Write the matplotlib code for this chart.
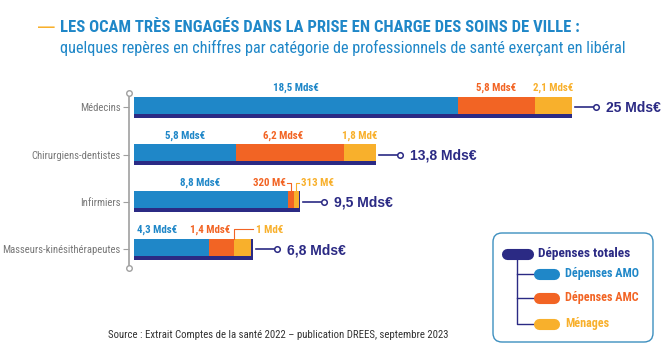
import matplotlib.pyplot as plt
from matplotlib.patches import FancyBboxPatch

# données
categories = ['Médecins', 'Chirurgiens-dentistes', 'Infirmiers', 'Masseurs-kinésithérapeutes']
amo = [18.5, 5.8, 8.8, 4.3]
amc = [4.4, 6.2, 0.32, 1.4]
menages = [2.1, 1.8, 0.313, 1.0]
totals = [25, 13.8, 9.5, 6.8]
amo_labels = ['18,5 Mds€', '5,8 Mds€', '8,8 Mds€', '4,3 Mds€']
amc_labels = ['5,8 Mds€', '6,2 Mds€', '320 M€', '1,4 Mds€']
men_labels = ['2,1 Mds€', '1,8 Md€', '313 M€', '1 Md€']
total_labels = ['25 Mds€', '13,8 Mds€', '9,5 Mds€', '6,8 Mds€']

BLUE = '#1f87c8'
ORANGE = '#f26424'
YELLOW = '#f8b02c'
NAVY = '#2b2a84'
NARROW = ['Roboto Condensed', 'Archivo Narrow', 'PT Sans Narrow', 'Liberation Sans Narrow', 'DejaVu Sans']
SANS = ['Liberation Sans', 'DejaVu Sans']

W, H = 668, 352
fig = plt.figure(figsize=(W / 100, H / 100), dpi=100)
fig.patch.set_facecolor('white')

def fx(px):
    return px / W

def fy(py):
    return 1 - py / H

# titre
fig.text(fx(38), fy(28), '—', color=YELLOW, fontsize=12, fontweight='bold', family=SANS, va='center')
fig.text(fx(60), fy(28), 'LES OCAM TRÈS ENGAGÉS DANS LA PRISE EN CHARGE DES SOINS DE VILLE :',
         color=BLUE, fontsize=12, fontweight='bold', family=NARROW, va='center')
fig.text(fx(60), fy(48), 'quelques repères en chiffres par catégorie de professionnels de santé exerçant en libéral',
         color=BLUE, fontsize=11.7, family=NARROW, va='center')

# axes des barres : 17.5 px par Md€
scale = 17.5
left_px, top_px, bot_px = 129, 83, 273
row0, step = 107.5, 47.2
ax = fig.add_axes([fx(left_px), fy(bot_px), 1 - fx(left_px), (bot_px - top_px) / H])
x0 = -5 / scale
ax.set_xlim(x0, x0 + (W - left_px) / scale)
ax.set_ylim((bot_px - row0) / step, (top_px - row0) / step)
ax.set_facecolor('none')

y = list(range(len(categories)))
hd, hc = 0.445, 0.36
yc = [v - (hd - hc) / 2 for v in y]
ax.barh(y, totals, height=hd, color=NAVY)
ax.barh(yc, amo, height=hc, color=BLUE)
ax.barh(yc, amc, left=amo, height=hc, color=ORANGE)
left3 = [a + b for a, b in zip(amo, amc)]
ax.barh(yc, menages, left=left3, height=hc, color=YELLOW)

for s in ['top', 'right', 'bottom']:
    ax.spines[s].set_visible(False)
ax.spines['left'].set_color('#a0a0a0')
ax.spines['left'].set_linewidth(1.2)
ax.spines['left'].set_bounds((268 - row0) / step, (93 - row0) / step)
ax.plot([x0, x0], [(93 - row0) / step, (268 - row0) / step], 'o', ms=4, mfc='white',
        mec='#a0a0a0', mew=1, clip_on=False, zorder=5)
ax.set_xticks([])
ax.set_yticks(y)
ax.set_yticklabels(categories, family=NARROW, fontsize=7.7, color='#777777')
ax.tick_params(axis='y', length=4, width=0.8, color='#a0a0a0', pad=2)

# étiquettes des segments
ly = -0.41
amo_dx = [0, 0, -11, -15]
amc_dx = [0, -7, 0, 0]
lab = dict(family=NARROW, fontsize=7.8, fontweight='bold', ha='center', va='center')
for i in range(len(categories)):
    ax.text(amo[i] / 2 + amo_dx[i] / scale, i + ly, amo_labels[i], color=BLUE, **lab)
    if i < 2:
        ax.text(amo[i] + amc[i] / 2 + amc_dx[i] / scale, i + ly, amc_labels[i], color=ORANGE, **lab)
        ax.text(left3[i] + menages[i] / 2, i + ly, men_labels[i], color=YELLOW, **lab)

top_bar = -hd / 2
# Infirmiers : petits segments avec renvois
i = 2
xa = amo[i] + amc[i] / 2
xm = left3[i] + menages[i] / 2
ax.plot([xa - 4 / scale, xa, xa], [i + ly + 0.02, i + ly + 0.02, i + top_bar], color=ORANGE, lw=0.8)
ax.plot([xm, xm, xm + 3 / scale], [i + top_bar, i + ly + 0.02, i + ly + 0.02], color=YELLOW, lw=0.8)
lab_l = dict(family=NARROW, fontsize=7.8, fontweight='bold', va='center')
ax.text(xa - 5 / scale, i + ly, amc_labels[i], color=ORANGE, ha='right', **lab_l)
ax.text(xm + 5 / scale, i + ly, men_labels[i], color=YELLOW, ha='left', **lab_l)

# Masseurs-kinésithérapeutes
i = 3
xb = amo[i] + amc[i]
ax.text(xb - 4 / scale, i + ly, amc_labels[i], color=ORANGE, ha='right', **lab_l)
ax.plot([xb, xb, xb + 19 / scale], [i + top_bar, i + ly - 0.02, i + ly - 0.02], color=ORANGE, lw=0.8)
ax.text(xb + 22 / scale, i + ly, men_labels[i], color=YELLOW, ha='left', **lab_l)

# totaux
for i in range(len(categories)):
    t = totals[i]
    ax.plot([t + 3 / scale, t + 23 / scale], [i, i], color=NAVY, lw=1.2)
    ax.plot([t + 24 / scale], [i], 'o', ms=4, mfc='white', mec=NAVY, mew=1.1)
    ax.text(t + 34 / scale, i + 0.02, total_labels[i], color=NAVY, family=SANS, fontsize=10,
            fontweight='bold', va='center', ha='left')

# légende
lax = fig.add_axes([0, 0, 1, 1])
lax.set_xlim(0, W)
lax.set_ylim(H, 0)
lax.axis('off')
lax.patch.set_alpha(0)
box = FancyBboxPatch((493, 233), 160, 109, boxstyle='round,pad=0,rounding_size=9',
                     fc='white', ec='#3d8fbf', lw=1)
lax.add_patch(box)
lax.plot([517, 517, 537], [258, 324, 324], color=NAVY, lw=1)
lax.plot([517, 537], [274, 274], color=NAVY, lw=1)
lax.plot([517, 537], [298, 298], color=NAVY, lw=1)
for (x1, x2, yy, c) in [(503, 532, 254, NAVY), (535, 558, 274, BLUE), (535, 558, 298, ORANGE), (535, 558, 324, YELLOW)]:
    lax.plot([x1 + 4, x2 - 4], [yy, yy], color=c, lw=8, solid_capstyle='round')
lax.text(538, 254, 'Dépenses totales', color=NAVY, family=NARROW, fontsize=9.6, fontweight='bold', va='center')
lax.text(565, 274, 'Dépenses AMO', color=BLUE, family=NARROW, fontsize=8.7, fontweight='bold', va='center')
lax.text(565, 298, 'Dépenses AMC', color=ORANGE, family=NARROW, fontsize=8.7, fontweight='bold', va='center')
lax.text(565, 324, 'Ménages', color=YELLOW, family=NARROW, fontsize=8.7, fontweight='bold', va='center')

# source
fig.text(fx(278), fy(335), 'Source : Extrait Comptes de la santé 2022 – publication DREES, septembre 2023',
         color='#333333', family=NARROW, fontsize=7.75, ha='center', va='center')

fig.savefig('out.png', dpi=100)
